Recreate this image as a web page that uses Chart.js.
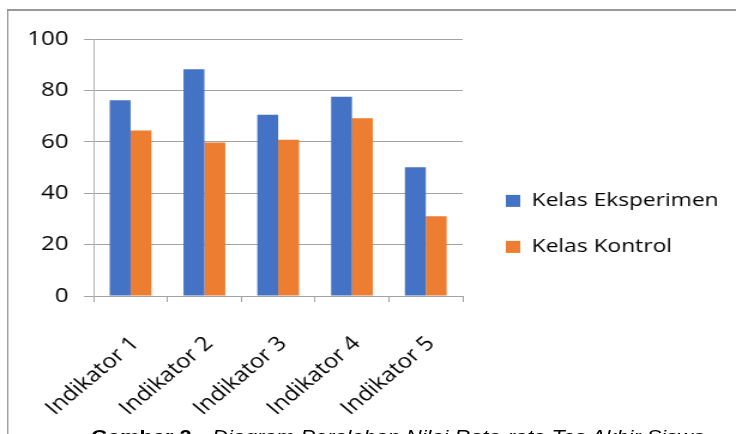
<!DOCTYPE html>
<html>
<head>
<meta charset="utf-8">
<script src="https://cdn.jsdelivr.net/npm/chart.js@4/dist/chart.umd.min.js"></script>
<style>
  html, body { margin: 0; padding: 0; background: #fff; overflow: hidden; }
  body { width: 736px; height: 434px; position: relative; }
  #stage {
    position: absolute; left: 0; top: 0; width: 614px; height: 434px;
    transform: scaleX(1.1987); transform-origin: 0 0;
  }
  #frame {
    position: absolute; left: 6px; top: 9px; width: 700px; height: 500px;
    border-left: 1px solid #8a8a8a; border-top: 2px solid #9a9a9a;
  }
  #chart { position: absolute; left: 0; top: 0; }
  #caption {
    position: absolute; left: 76px; top: 428px; white-space: nowrap;
    font-family: "Liberation Sans", Arial, sans-serif; font-size: 18.2px; line-height: 18.2px; color: #000;
  }
  #caption i { margin-left: 12px; }
</style>
</head>
<body>
<div id="stage">
  <div id="frame"></div>
  <canvas id="chart" width="614" height="434"></canvas>
  <div id="caption"><b>Gambar 2.</b><i>Diagram Perolehan Nilai Rata-rata Tes Akhir Siswa</i></div>
</div>
<script>
// Average final-test score per indicator
const categories = ['Indikator 1', 'Indikator 2', 'Indikator 3', 'Indikator 4', 'Indikator 5'];
const kelasEksperimen = [76.2, 88.2, 70.5, 77.5, 50.1];
const kelasKontrol = [64.4, 59.7, 60.8, 69.2, 31.0];
const yTicks = [0, 20, 40, 60, 80, 100];

const FONT = '"Open Sans", "Noto Sans", sans-serif';
const GRID = '#a3a3a3';

// keeps the legend column at a fixed width so the plot ends where it should
const legendWidth = {
  id: 'legendWidth',
  beforeLayout(chart) {
    const lg = chart.legend;
    if (!lg || lg._fixedWidth) return;
    const fit = lg.fit;
    lg.fit = function () { fit.call(this); this.width = 219; };
    lg._fixedWidth = true;
  }
};

new Chart(document.getElementById('chart'), {
  type: 'bar',
  data: {
    labels: categories,
    datasets: [
      { label: 'Kelas Eksperimen', data: kelasEksperimen, backgroundColor: '#4472C4' },
      { label: 'Kelas Kontrol', data: kelasKontrol, backgroundColor: '#ED7D31' }
    ]
  },
  options: {
    responsive: false,
    animation: false,
    devicePixelRatio: 1,
    categoryPercentage: 0.566,
    barPercentage: 1.0,
    layout: { padding: { top: 39, bottom: 0, left: 0, right: 0 } },
    plugins: {
      tooltip: { enabled: false },
      legend: {
        position: 'right',
        align: 'start',
        // empty title used as a spacer above the two entries
        title: { display: true, text: '', font: { size: 12, lineHeight: 1.2 }, padding: { top: 111, bottom: 0 } },
        labels: {
          boxWidth: 12, boxHeight: 12, padding: 27,
          color: '#000', font: { family: FONT, size: 19 }
        }
      }
    },
    scales: {
      x: {
        grid: { display: true, drawOnChartArea: false, drawTicks: true, tickLength: 6, color: GRID, offset: true },
        border: { display: true, color: GRID },
        ticks: { minRotation: 45, maxRotation: 45, padding: 30, labelOffset: 4, color: '#000', font: { family: FONT, size: 20 } },
        afterFit(s) { s.height = 138; }
      },
      y: {
        min: 0, max: 100,
        afterBuildTicks(s) { s.ticks = yTicks.map(v => ({ value: v })); },
        grid: { color: GRID, tickLength: 8 },
        border: { display: true, color: '#b5b5b5' },
        ticks: { padding: 13, color: '#000', font: { family: FONT, size: 20 } },
        afterFit(s) { s.width = 77; }
      },
      pad: {
        type: 'linear', position: 'right', display: true,
        grid: { display: false, drawTicks: false },
        border: { display: false },
        ticks: { display: false },
        afterFit(s) { s.width = 9; }
      }
    }
  },
  plugins: [legendWidth]
});
</script>
</body>
</html>
